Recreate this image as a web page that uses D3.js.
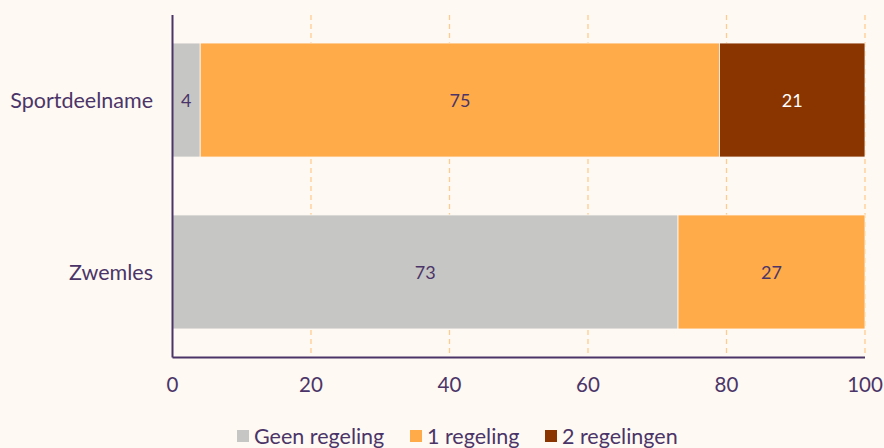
<!DOCTYPE html>
<html><head><meta charset="utf-8">
<script src="https://cdn.jsdelivr.net/npm/d3@7"></script>
<style>
html,body{margin:0;padding:0;background:#fff9f3;}
text{font-family:Lato, "Noto Sans", sans-serif;}
</style></head>
<body>
<svg id="chart" width="884" height="448"></svg>
<script>
const categories = ["Sportdeelname", "Zwemles"];
const seriesNames = ["Geen regeling", "1 regeling", "2 regelingen"];
const geenRegeling = [4, 73];
const eenRegeling = [75, 27];
const tweeRegelingen = [21, 0];
const xTicks = [0, 20, 40, 60, 80, 100];
const colors = ["#c6c6c4", "#ffab4a", "#8a3500"];
const textColor = "#4b3568";

const svg = d3.select("#chart");
const W = 884, H = 448;
const m = {left: 172.5, right: 19, top: 15, bottom: 91};
const x = d3.scaleLinear().domain([0, 100]).range([m.left, W - m.right]);
const y = d3.scaleBand().domain(categories).range([m.top, H - m.bottom])
  .paddingInner(0.337).paddingOuter(0.163);

svg.append("rect").attr("width", W).attr("height", H).attr("fill", "#fff9f3");

// gridlines
svg.append("g").selectAll("line").data(xTicks.filter(d => d > 0)).join("line")
  .attr("x1", d => x(d)).attr("x2", d => x(d))
  .attr("y1", m.top).attr("y2", H - m.bottom)
  .attr("stroke", "#ffcc8e").attr("stroke-width", 1.3).attr("stroke-dasharray", "5,4");

const data = categories.map((c, i) => ({cat: c, "Geen regeling": geenRegeling[i], "1 regeling": eenRegeling[i], "2 regelingen": tweeRegelingen[i]}));
const stack = d3.stack().keys(seriesNames)(data);

const g = svg.append("g");
stack.forEach((s, si) => {
  s.forEach(d => {
    const v = d[1] - d[0];
    if (v <= 0) return;
    g.append("rect")
      .attr("x", x(d[0])).attr("width", x(d[1]) - x(d[0]))
      .attr("y", y(d.data.cat)).attr("height", y.bandwidth())
      .attr("fill", colors[si]).attr("stroke", "#fff9f3").attr("stroke-width", 0.8);
    g.append("text")
      .attr("x", (x(d[0]) + x(d[1])) / 2).attr("y", y(d.data.cat) + y.bandwidth() / 2)
      .attr("text-anchor", "middle").attr("dominant-baseline", "central")
      .attr("font-size", 18).attr("fill", si === 2 ? "#ffffff" : textColor)
      .text(v);
  });
});

// axes
svg.append("line").attr("x1", m.left).attr("x2", m.left).attr("y1", m.top).attr("y2", H - m.bottom + 0.5)
  .attr("stroke", textColor).attr("stroke-width", 2);
svg.append("line").attr("x1", m.left).attr("x2", x(100)).attr("y1", H - m.bottom + 0.5).attr("y2", H - m.bottom + 0.5)
  .attr("stroke", textColor).attr("stroke-width", 2);

svg.append("g").selectAll("text").data(xTicks).join("text")
  .attr("x", d => x(d)).attr("y", 384).attr("text-anchor", "middle").attr("dominant-baseline", "central")
  .attr("font-size", 20.5).attr("fill", textColor).text(d => d);

svg.append("g").selectAll("text").data(categories).join("text")
  .attr("x", 153).attr("y", d => y(d) + y.bandwidth() / 2)
  .attr("text-anchor", "end").attr("dominant-baseline", "central")
  .attr("font-size", 21.5).attr("fill", textColor).text(d => d);

// legend
const legX = [237, 410, 545];
const leg = svg.append("g");
seriesNames.forEach((n, i) => {
  leg.append("rect").attr("x", legX[i]).attr("y", 430).attr("width", 12).attr("height", 12).attr("fill", colors[i]);
  leg.append("text").attr("x", legX[i] + 17).attr("y", 436).attr("dominant-baseline", "central")
    .attr("font-size", 21.5).attr("fill", textColor).text(n);
});
</script>
</body></html>
